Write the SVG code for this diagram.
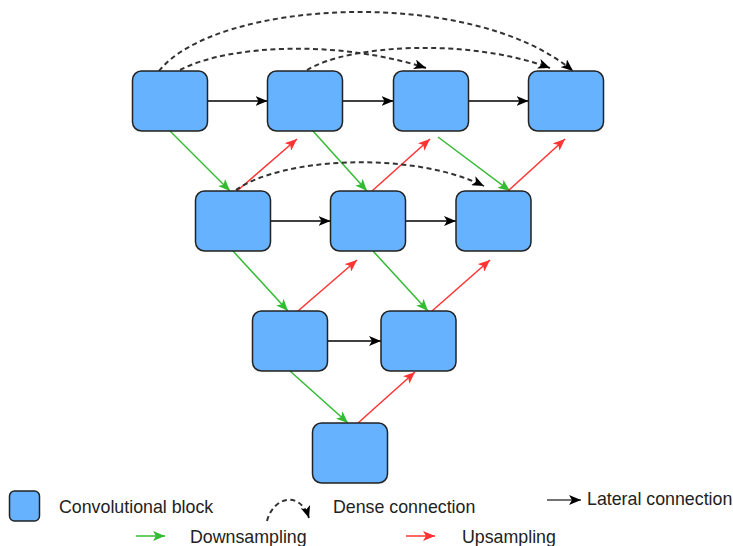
<svg xmlns="http://www.w3.org/2000/svg" width="733" height="546" viewBox="0 0 733 546">
<style>
.box{fill:#66B2FF;stroke:#222;stroke-width:1.5}
.lat{fill:none;stroke:#000;stroke-width:1.5}
.down{fill:none;stroke:#33BB33;stroke-width:1.5}
.up{fill:none;stroke:#FF3333;stroke-width:1.5}
.dense{fill:none;stroke:#333;stroke-width:2;stroke-dasharray:5 3.5}
text{font-family:"Liberation Sans",Arial,sans-serif;font-size:17.8px;fill:#222}
</style>
<defs>
<marker id="aBlack" viewBox="0 0 12 10" refX="12" refY="5" markerWidth="12" markerHeight="10" markerUnits="userSpaceOnUse" orient="auto"><path d="M0,0 L12,5 L0,10 L3,5 Z" fill="#000"/></marker>
<marker id="aGreen" viewBox="0 0 12 10" refX="12" refY="5" markerWidth="12" markerHeight="10" markerUnits="userSpaceOnUse" orient="auto"><path d="M0,0 L12,5 L0,10 L3,5 Z" fill="#33BB33"/></marker>
<marker id="aRed" viewBox="0 0 12 10" refX="12" refY="5" markerWidth="12" markerHeight="10" markerUnits="userSpaceOnUse" orient="auto"><path d="M0,0 L12,5 L0,10 L3,5 Z" fill="#FF3333"/></marker>
<marker id="aDense" viewBox="0 0 12 10" refX="12" refY="5" markerWidth="12" markerHeight="10" markerUnits="userSpaceOnUse" orient="auto"><path d="M0,0 L12,5 L0,10 L3,5 Z" fill="#000"/></marker>
</defs>

<g id="connectors">
<g id="lateral">
<path class="lat" d="M207.5,101 H267.5" marker-end="url(#aBlack)"/>
<path class="lat" d="M342.5,101 H393.5" marker-end="url(#aBlack)"/>
<path class="lat" d="M468.5,101 H528.5" marker-end="url(#aBlack)"/>
<path class="lat" d="M270.5,221 H330.5" marker-end="url(#aBlack)"/>
<path class="lat" d="M405.5,221 H456" marker-end="url(#aBlack)"/>
<path class="lat" d="M327.5,341 H381" marker-end="url(#aBlack)"/>
</g>
<g id="downsampling">
<path class="down" d="M170,131 L230,191" marker-end="url(#aGreen)"/>
<path class="down" d="M313,131 L367,191" marker-end="url(#aGreen)"/>
<path class="down" d="M438,137 L510,191" marker-end="url(#aGreen)"/>
<path class="down" d="M233,251 L288,311" marker-end="url(#aGreen)"/>
<path class="down" d="M373,251 L428,311" marker-end="url(#aGreen)"/>
<path class="down" d="M290,371 L348,423" marker-end="url(#aGreen)"/>
</g>
<g id="upsampling">
<path class="up" d="M237,191 L297,139" marker-end="url(#aRed)"/>
<path class="up" d="M372,191 L430,139" marker-end="url(#aRed)"/>
<path class="up" d="M508,191 L565,139" marker-end="url(#aRed)"/>
<path class="up" d="M298,311 L357,260" marker-end="url(#aRed)"/>
<path class="up" d="M432,311 L490,260" marker-end="url(#aRed)"/>
<path class="up" d="M358,423 L415,372" marker-end="url(#aRed)"/>
</g>
<g id="dense">
<path class="dense" d="M159,71 C215,0 470,-15 573,71" marker-end="url(#aDense)"/>
<path class="dense" d="M180,70 C230,44 340,40 426,68" marker-end="url(#aDense)"/>
<path class="dense" d="M307,70 C350,44 470,38 550,68" marker-end="url(#aDense)"/>
<path class="dense" d="M236,190 C280,158 410,150 484,186" marker-end="url(#aDense)"/>
</g>
</g>

<g id="n11"><rect class="box" x="132.5" y="71" width="75" height="60" rx="9"/></g>
<g id="n12"><rect class="box" x="267.5" y="71" width="75" height="60" rx="9"/></g>
<g id="n13"><rect class="box" x="393.5" y="71" width="75" height="60" rx="9"/></g>
<g id="n14"><rect class="box" x="528.5" y="71" width="75" height="60" rx="9"/></g>
<g id="n21"><rect class="box" x="195.5" y="191" width="75" height="60" rx="9"/></g>
<g id="n22"><rect class="box" x="330.5" y="191" width="75" height="60" rx="9"/></g>
<g id="n23"><rect class="box" x="456" y="191" width="75" height="60" rx="9"/></g>
<g id="n31"><rect class="box" x="252.5" y="311" width="75" height="60" rx="9"/></g>
<g id="n32"><rect class="box" x="381" y="311" width="75" height="60" rx="9"/></g>
<g id="n41"><rect class="box" x="312.5" y="423" width="75" height="60" rx="9"/></g>

<g id="legend">
<rect class="box" x="9.5" y="491" width="30" height="30" rx="5"/>
<text x="59" y="513">Convolutional block</text>
<path class="dense" d="M267,521 C273,497 300,490 309,518" marker-end="url(#aDense)"/>
<text x="333" y="513">Dense connection</text>
<path d="M547,500 H581" stroke="#444" stroke-width="1.5" fill="none" marker-end="url(#aBlack)"/>
<text x="587" y="505">Lateral connection</text>
<path class="down" d="M136,536 H165" marker-end="url(#aGreen)"/>
<text x="190" y="543">Downsampling</text>
<path class="up" d="M406,536 H435" marker-end="url(#aRed)"/>
<text x="462" y="543">Upsampling</text>
</g>
</svg>
